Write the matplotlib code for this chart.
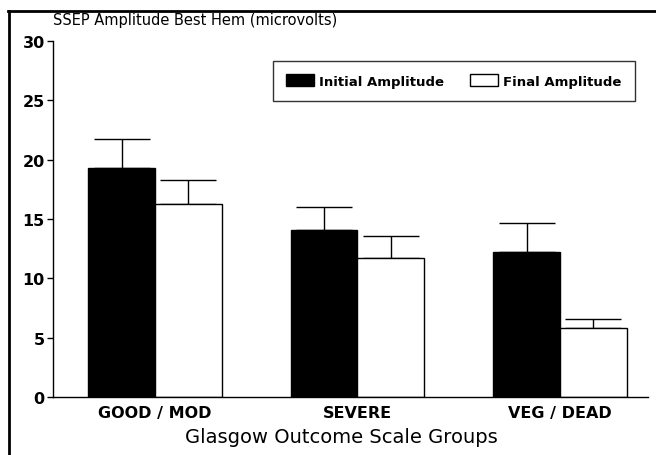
import numpy as np
import matplotlib
matplotlib.use('Agg')
import matplotlib.pyplot as plt
from matplotlib.lines import Line2D

# Data
groups = ['GOOD / MOD', 'SEVERE', 'VEG / DEAD']
initial_amp = [19.3, 14.1, 12.2]
initial_err = [2.4, 1.9, 2.5]
final_amp = [16.3, 11.7, 5.8]
final_err = [2.0, 1.9, 0.8]

plt.rcParams['font.family'] = ['DejaVu Sans']

fig = plt.figure(figsize=(6.56, 4.56), dpi=100)
ax = fig.add_axes([53/656, 58/456, 595/656, 356/456])

x = np.arange(len(groups))
w = 0.33
ax.bar(x - w/2, initial_amp, w, color='black', edgecolor='black', lw=1,
       label='Initial Amplitude', zorder=2)
ax.bar(x + w/2, final_amp, w, color='white', edgecolor='black', lw=1,
       label='Final Amplitude', zorder=2)
# upper error bars only
ax.errorbar(x - w/2, initial_amp, yerr=[np.zeros(3), initial_err], fmt='none',
            ecolor='black', elinewidth=1, capsize=20, capthick=1, zorder=1)
ax.errorbar(x + w/2, final_amp, yerr=[np.zeros(3), final_err], fmt='none',
            ecolor='black', elinewidth=1, capsize=20, capthick=1, zorder=1)

ax.set_xlim(-0.504, 2.435)
ax.set_ylim(0, 30)
ax.set_yticks([0, 5, 10, 15, 20, 25, 30])
ax.set_xticks(x)
ax.set_xticklabels(groups, fontweight='bold', fontsize=11.5)
ax.tick_params(axis='x', length=0, pad=6)
ax.tick_params(axis='y', direction='out', length=4, width=1, labelsize=11.5, pad=2)
for lab in ax.get_yticklabels():
    lab.set_fontweight('bold')
ax.spines['top'].set_visible(False)
ax.spines['right'].set_visible(False)
ax.spines['left'].set_linewidth(1)
ax.spines['bottom'].set_linewidth(1)

ax.set_xlabel('Glasgow Outcome Scale Groups', fontsize=14)
ax.xaxis.set_label_coords((341 - 53) / 595, -0.085)
fig.text(53/656, 1 - 20/456, 'SSEP Amplitude Best Hem (microvolts)',
         fontsize=10.5, ha='left', va='center')

leg = ax.legend(loc='upper right', bbox_to_anchor=(635/656, 1 - 62/456),
                bbox_transform=fig.transFigure, borderaxespad=0, ncol=2, frameon=True,
                fancybox=False, edgecolor='black', prop={'weight': 'bold', 'size': 9.5},
                handlelength=2.1, handleheight=1.0, columnspacing=2.0,
                borderpad=1.0, handletextpad=0.4)
leg.get_frame().set_linewidth(1)

# page frame lines (top and left)
fig.add_artist(Line2D([8/656, 1], [1 - 12/456, 1 - 12/456], color='black', lw=2,
                      transform=fig.transFigure))
fig.add_artist(Line2D([9/656, 9/656], [0, 1 - 12/456], color='black', lw=2,
                      transform=fig.transFigure))

fig.savefig('out.png', dpi=100)
